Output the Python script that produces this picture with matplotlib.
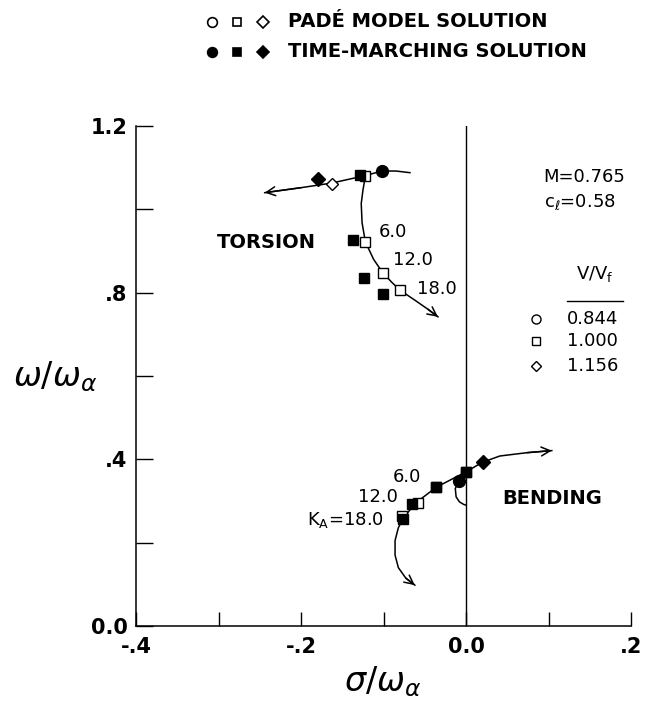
"""Root-locus style plot: Pade model vs time-marching solution."""
import matplotlib

matplotlib.use("Agg")
import matplotlib.pyplot as plt  # noqa: E402

# ---- data ----
# torsion branch, K_A = 0, 6, 12, 18 (squares, V/Vf = 1.000)
tors_pade_sq_x = [-0.122, -0.122, -0.101, -0.080]
tors_pade_sq_y = [1.080, 0.922, 0.848, 0.806]
tors_tm_sq_x = [-0.128, -0.137, -0.124, -0.101]
tors_tm_sq_y = [1.082, 0.926, 0.836, 0.797]
tors_circle = (-0.102, 1.092)
tors_pade_dia = (-0.163, 1.062)
tors_tm_dia = (-0.179, 1.074)

# bending branch, K_A = 0, 6, 12, 18
bend_pade_sq_x = [0.000, -0.036, -0.058, -0.077]
bend_pade_sq_y = [0.370, 0.333, 0.296, 0.265]
bend_tm_sq_x = [0.000, -0.036, -0.065, -0.076]
bend_tm_sq_y = [0.370, 0.333, 0.293, 0.258]
bend_circle = (-0.008, 0.349)
bend_dia = (0.020, 0.393)

# locus curves (traced)
tors_main_x = [-0.068, -0.085, -0.102, -0.122, -0.163, -0.200, -0.244]
tors_main_y = [1.088, 1.092, 1.092, 1.081, 1.063, 1.052, 1.040]
tors_down_x = [-0.122, -0.125, -0.127, -0.126, -0.122, -0.112, -0.101, -0.090, -0.080, -0.062, -0.046, -0.034]
tors_down_y = [1.080, 1.045, 1.014, 0.968, 0.922, 0.880, 0.848, 0.825, 0.806, 0.782, 0.760, 0.742]
bend_main_x = [-0.076, -0.062, -0.036, 0.000, 0.020, 0.041, 0.074, 0.104]
bend_main_y = [0.258, 0.294, 0.333, 0.370, 0.393, 0.408, 0.416, 0.421]
bend_down_x = [-0.076, -0.082, -0.086, -0.086, -0.082, -0.073, -0.062]
bend_down_y = [0.258, 0.236, 0.205, 0.170, 0.140, 0.115, 0.098]
bend_hook_x = [-0.008, -0.013, -0.012, -0.008, -0.003, 0.000]
bend_hook_y = [0.349, 0.330, 0.310, 0.298, 0.292, 0.290]

vvf_labels = ["0.844", "1.000", "1.156"]
vvf_markers = ["o", "s", "D"]

xticks = [-0.4, -0.3, -0.2, -0.1, 0.0, 0.1, 0.2]
xticklabels = ["-.4", "", "-.2", "", "0.0", "", ".2"]
yticks = [0.0, 0.2, 0.4, 0.6, 0.8, 1.0, 1.2]
yticklabels = ["0.0", "", ".4", "", ".8", "", "1.2"]

plt.rcParams["font.family"] = ["DejaVu Sans"]
plt.rcParams["mathtext.fontset"] = "dejavusans"

fig = plt.figure(figsize=(6.47, 7.04), dpi=100)
ax = fig.add_axes([0.2102, 0.1108, 0.7651, 0.7102])
ax.set_xlim(-0.4, 0.2)
ax.set_ylim(0.0, 1.2)
for s in ("top", "right"):
    ax.spines[s].set_visible(False)
for s in ("left", "bottom"):
    ax.spines[s].set_linewidth(1.1)

ax.axvline(0.0, color="black", lw=1.0)

LW = 1.1


def curve(xs, ys, arrow=True):
    ax.plot(xs, ys, color="black", lw=LW, zorder=2)
    if arrow:
        ax.annotate("", xy=(xs[-1], ys[-1]), xytext=(xs[-2], ys[-2]),
                    arrowprops=dict(arrowstyle="->", lw=LW, color="black",
                                    mutation_scale=16, shrinkA=0, shrinkB=0))


curve(tors_main_x, tors_main_y)
curve(tors_down_x, tors_down_y)
curve(bend_main_x, bend_main_y)
curve(bend_down_x, bend_down_y)
curve(bend_hook_x, bend_hook_y, arrow=False)

open_kw = dict(ls="none", mfc="white", mec="black", mew=1.0, zorder=4)
fill_kw = dict(ls="none", mfc="black", mec="black", mew=1.0, zorder=5)

# torsion markers
ax.plot(tors_tm_sq_x, tors_tm_sq_y, marker="s", ms=7.5, **fill_kw)
ax.plot(tors_pade_sq_x, tors_pade_sq_y, marker="s", ms=7, **open_kw)
ax.plot(*tors_circle, marker="o", ms=8.5, **fill_kw)
ax.plot(*tors_tm_dia, marker="D", ms=7, **fill_kw)
ax.plot(*tors_pade_dia, marker="D", ms=6.5, **open_kw)

# bending markers
ax.plot(bend_pade_sq_x, bend_pade_sq_y, marker="s", ms=7, **open_kw)
ax.plot(bend_tm_sq_x, bend_tm_sq_y, marker="s", ms=7.5, **fill_kw)
ax.plot(*bend_circle, marker="o", ms=8.5, **fill_kw)
ax.plot(*bend_dia, marker="D", ms=7.5, **fill_kw)

# gain labels
num = dict(fontsize=13, va="center")
ax.text(-0.106, 0.946, "6.0", ha="left", **num)
ax.text(-0.088, 0.878, "12.0", ha="left", **num)
ax.text(-0.060, 0.810, "18.0", ha="left", **num)
ax.text(-0.054, 0.358, "6.0", ha="right", **num)
ax.text(-0.083, 0.310, "12.0", ha="right", **num)
ax.text(-0.100, 0.254, r"K$_\mathsf{A}$=18.0", ha="right", **num)

ax.text(-0.242, 0.920, "TORSION", fontsize=14, fontweight="bold", ha="center", va="center")
ax.text(0.044, 0.306, "BENDING", fontsize=14, fontweight="bold", ha="left", va="center")

# parameter block and V/Vf key
ax.text(0.0936, 1.077, "M=0.765", fontsize=13, ha="left", va="center")
ax.text(0.0944, 1.018, r"c$_\ell$=0.58", fontsize=13, ha="left", va="center")
ax.text(0.156, 0.846, r"V/V$_\mathsf{f}$", fontsize=13, ha="center", va="center")
ax.plot([0.122, 0.190], [0.781, 0.781], color="black", lw=1.0)
for i, (lab, mk) in enumerate(zip(vvf_labels, vvf_markers)):
    yy = [0.737, 0.683, 0.623][i]
    ax.plot(0.0844, yy, marker=mk, ms=6.5 if mk == "o" else 5.5, mfc="white",
            mec="black", mew=1.0, ls="none", clip_on=False)
    ax.text(0.1226, yy, lab, fontsize=13, ha="left", va="center")

# top legend (figure coords)
leg_x = [211.7 / 647, 236.7 / 647, 262.7 / 647]
leg_rows = [(1 - 21.7 / 704, "white", "PADÉ MODEL SOLUTION"),
            (1 - 51.7 / 704, "black", "TIME-MARCHING SOLUTION")]
for yy, fc, txt in leg_rows:
    for xx, mk in zip(leg_x, vvf_markers):
        ax.plot(xx, yy, marker=mk, ms=7 if mk == "o" else 6, mfc=fc, mec="black",
                mew=1.2, ls="none", transform=fig.transFigure, clip_on=False)
    fig.text(288 / 647, yy, txt, fontsize=14, fontweight="bold", ha="left", va="center")

# ticks
ax.set_xticks(xticks)
ax.set_xticklabels(xticklabels)
ax.set_yticks(yticks)
ax.set_yticklabels(yticklabels)
ax.tick_params(axis="x", direction="in", length=10, width=1.0, pad=8, labelsize=15)
ax.tick_params(axis="y", direction="in", length=12, width=1.0, pad=6, labelsize=15)
for lab in ax.get_xticklabels() + ax.get_yticklabels():
    lab.set_fontweight("bold")

ax.set_xlabel(r"$\sigma/\omega_\alpha$", fontsize=24, va="center")
ax.xaxis.set_label_coords(0.499, -0.112)
ax.set_ylabel(r"$\omega/\omega_\alpha$", fontsize=24, rotation=0, ha="center", va="center")
ax.yaxis.set_label_coords(-0.164, 0.498)

fig.savefig("out.png", dpi=100)
